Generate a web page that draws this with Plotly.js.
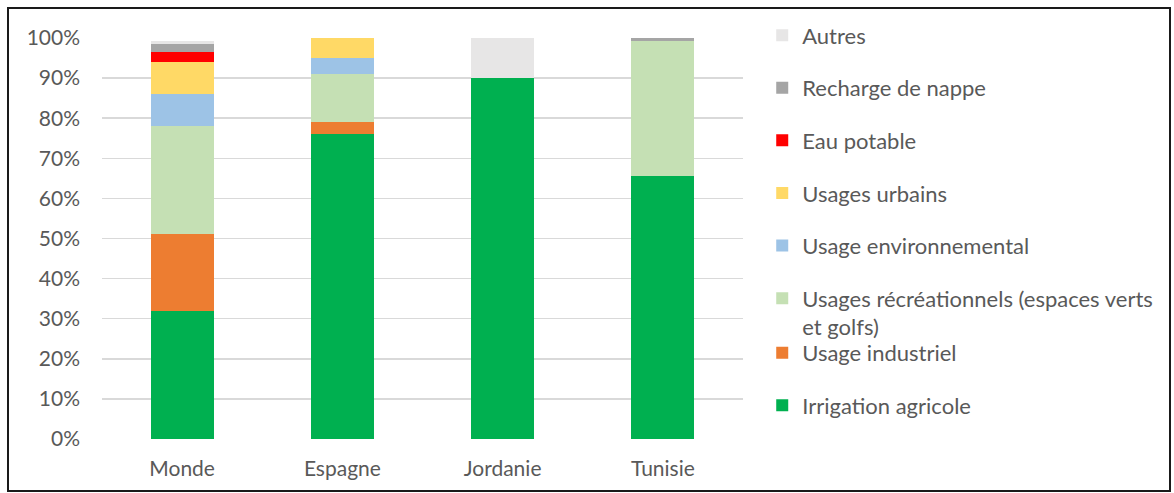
<!DOCTYPE html>
<html>
<head>
<meta charset="utf-8">
<script src="https://cdn.plot.ly/plotly-3.0.1.min.js"></script>
<style>
  html, body { margin: 0; padding: 0; background: #fff; }
  #frame { position: absolute; left: 7px; top: 7px; width: 1160px; height: 481px; border: 2px solid #1a1a1a; box-sizing: content-box; pointer-events: none; }
  #chart { width: 1174px; height: 493px; }
</style>
</head>
<body>
<div id="chart"></div>
<div id="frame"></div>
<script>
// Répartition des usages de l'eau réutilisée (en % du volume)
const categories = ['Monde', 'Espagne', 'Jordanie', 'Tunisie'];

const irrigationAgricole   = [32, 76, 90, 65.5];
const usageIndustriel      = [19, 3, 0, 0];
const usagesRecreationnels = [27, 12, 0, 33.75];
const usageEnvironnemental = [8, 4, 0, 0];
const usagesUrbains        = [8, 5, 0, 0];
const eauPotable           = [2.5, 0, 0, 0];
const rechargeNappe        = [2, 0, 0, 0.75];
const autres               = [0.8, 0, 10, 0];

const yTicks = [0, 10, 20, 30, 40, 50, 60, 70, 80, 90, 100];
const yTickLabels = yTicks.map(v => v + '%');

const textColor = '#595959';
const fontFamily = 'Lato, "Open Sans", sans-serif';

// Stack order: first series sits at the bottom of each column.
// The key is split in two blocks so the wrapped entry keeps a regular rhythm.
const series = [
  { name: 'Irrigation agricole', y: irrigationAgricole, color: '#00B050', legend: 'legend2', rank: 2 },
  { name: 'Usage industriel', y: usageIndustriel, color: '#ED7D31', legend: 'legend2', rank: 1 },
  { name: 'Usages récréationnels (espaces verts<br>et golfs)', y: usagesRecreationnels, color: '#C5E0B4', legend: 'legend', rank: 6 },
  { name: 'Usage environnemental', y: usageEnvironnemental, color: '#9DC3E6', legend: 'legend', rank: 5 },
  { name: 'Usages urbains', y: usagesUrbains, color: '#FFD966', legend: 'legend', rank: 4 },
  { name: 'Eau potable', y: eauPotable, color: '#FF0000', legend: 'legend', rank: 3 },
  { name: 'Recharge de nappe', y: rechargeNappe, color: '#A5A5A5', legend: 'legend', rank: 2 },
  { name: 'Autres', y: autres, color: '#E7E6E6', legend: 'legend', rank: 1 }
];

const traces = series.map((s, i) => ({
  type: 'bar',
  name: s.name,
  x: categories,
  y: s.y,
  legend: s.legend,
  legendgroup: 'g' + i,
  legendrank: s.rank,
  marker: { color: s.color, line: { width: 0 } },
  hovertemplate: '%{x}: %{y}%<extra>' + s.name + '</extra>'
}));

const legendBase = {
  x: 1.03,
  xanchor: 'left',
  yanchor: 'top',
  traceorder: 'grouped',
  tracegroupgap: 21,
  valign: 'top',
  maxheight: 480,
  font: { family: fontFamily, color: textColor, size: 22 },
  bgcolor: 'rgba(0,0,0,0)'
};

const layout = {
  width: 1174,
  height: 493,
  margin: { l: 102, r: 431, t: 38, b: 54 },
  paper_bgcolor: '#ffffff',
  plot_bgcolor: '#ffffff',
  barmode: 'stack',
  bargap: 0.606,
  font: { family: fontFamily, color: textColor, size: 21 },
  showlegend: true,
  legend: Object.assign({}, legendBase, { y: 1.059 }),
  legend2: Object.assign({}, legendBase, { y: 0.267 }),
  xaxis: {
    type: 'category',
    showgrid: false,
    zeroline: false,
    showline: false,
    ticks: '',
    ticklabelstandoff: 15,
    tickfont: { family: fontFamily, color: textColor, size: 21 }
  },
  yaxis: {
    range: [0, 100],
    tickvals: yTicks,
    ticktext: yTickLabels,
    showgrid: true,
    gridcolor: '#D9D9D9',
    gridwidth: 1.5,
    zeroline: false,
    showline: false,
    ticks: '',
    ticklabelstandoff: 21,
    tickfont: { family: fontFamily, color: textColor, size: 21 }
  }
};

Plotly.newPlot('chart', traces, layout, { displayModeBar: false, staticPlot: true });
</script>
</body>
</html>
